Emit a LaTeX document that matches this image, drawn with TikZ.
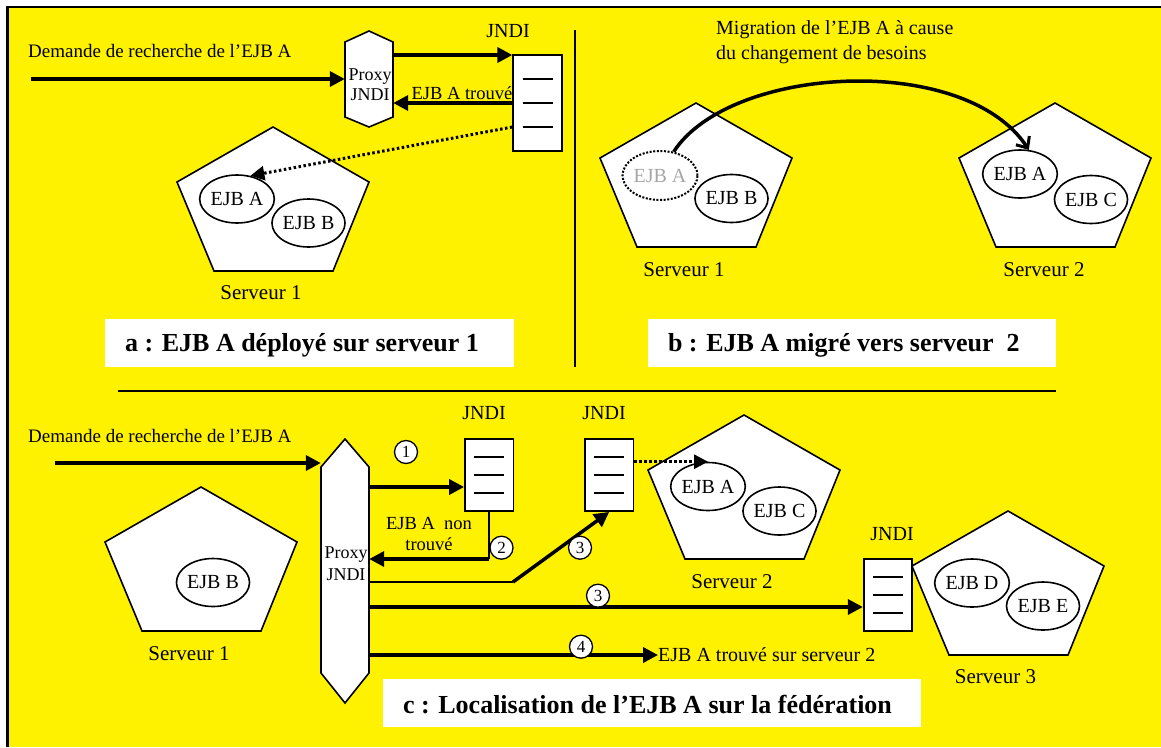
\documentclass[tikz,border=0pt]{standalone}
\usepackage{fontspec}
\setmainfont{Liberation Serif}
\usetikzlibrary{shapes.geometric,arrows.meta,calc}

% server drawn as a pentagon, given by its top vertex
\newcommand\srvpent[2]{\draw[outline] (#1,#2) -- ++(96,55) -- ++(-36,89) -- ++(-119,0) -- ++(-37,-89) -- cycle;}
% the three entries inside a JNDI register
\newcommand\jndilines[2]{\foreach \k in {-1,0,1}{\draw[jline] ($(#1.center)+(-15,\k*#2)$) -- ($(#1.center)+(15,\k*#2)$);}}

\begin{document}
\begin{tikzpicture}[x=1pt,y=-1pt,
  outline/.style={draw=black,line width=1.6pt,fill=white,line join=miter},
  ejb/.style={ellipse,draw,line width=1.6pt,minimum width=73pt,minimum height=48pt,inner sep=0pt,font=\fontsize{20}{24}\selectfont},
  lbl/.style={inner sep=0pt,font=\fontsize{20}{24}\selectfont},
  reqlbl/.style={inner sep=0pt,font=\fontsize{19}{22}\selectfont},
  small/.style={inner sep=0pt,font=\fontsize{18.5}{21}\selectfont,align=center},
  srvlbl/.style={inner sep=0pt,font=\fontsize{21}{24}\selectfont},
  jbox/.style={draw,line width=1.8pt,fill=white,minimum width=48.5pt,inner sep=0pt},
  jline/.style={line width=1.8pt},
  capbox/.style={fill=white,inner sep=0pt},
  caption/.style={inner sep=0pt,font=\bfseries\fontsize{26}{30}\selectfont},
  flow/.style={line width=3.5pt,-{Triangle[length=15pt,width=15pt]}},
  thinflow/.style={line width=1.8pt},
  lookup/.style={line width=3pt,dash pattern=on 2.5pt off 2.5pt,-{Triangle[length=14pt,width=14pt]}},
  stepnum/.style={circle,draw,line width=1.3pt,fill=white,minimum size=23pt,inner sep=0pt,font=\fontsize{17}{17}\selectfont},
  rule/.style={line width=1.5pt}
]
\useasboundingbox (0,0) rectangle (1161,747);
\fill[white] (0,0) rectangle (1161,747);
\fill[yellow] (7,7) rectangle (1161,747);
\draw[line width=2.5pt] (7.5,747) -- (7.5,6.75) -- (1161,6.75);

% ---------- a : EJB A deployed on server 1 ----------
\node[reqlbl,anchor=west] (reqA) at (28,51) {Demande de recherche de l’EJB A};
\coordinate (reqAstart) at (31,79);
\draw[outline] (369,31) -- (393,42) -- (393,117) -- (369,127) -- (345,117) -- (345,42) -- cycle;
\node[minimum width=48pt,minimum height=96pt,inner sep=0pt] (proxyA) at (369,79) {};
\node[small,font=\fontsize{18}{20}\selectfont] (proxyAlbl) at (370,85) {Proxy\\JNDI};
\draw[flow] (reqAstart) -- (proxyA.west |- reqAstart);

\node[jbox,minimum height=96pt] (jA) at (537.5,103) {};
\jndilines{jA}{24}
\node[lbl] (jAlbl) at (508,31) {JNDI};
\coordinate (yA1) at (0,55);
\draw[flow] (proxyA.east |- yA1) -- (jA.west |- yA1);
\draw[flow] (jA.west) -- (proxyA.east |- jA.west);
\node[small] (foundA) at (462,93) {EJB A trouvé};

\srvpent{273}{127}
\node[ejb] (eA1) at (237,199) {EJB A};
\node[ejb] (eA2) at (308.5,223) {EJB B};
\node[srvlbl] (sA1) at (261,293) {Serveur 1};
\coordinate (yA3) at (0,127);
\draw[lookup] (jA.west |- yA3) -- (eA1.60);

\node[capbox,minimum width=409pt,minimum height=48pt] (capAbox) at (309.5,343) {};
\node[caption,anchor=west] (capA) at ($(capAbox.west)+(20,2)$) {a : EJB A déployé sur serveur 1};

\draw[rule] (575,30) -- (575,367);

% ---------- b : EJB A migrated to server 2 ----------
\node[lbl,anchor=west,align=left,font=\fontsize{20}{25}\selectfont] (migr) at (716,42.5) {Migration de l’EJB A à cause\\du changement de besoins};
\srvpent{696}{103}
\srvpent{1055}{103}
\node[ejb,minimum width=75pt,minimum height=49pt,dash pattern=on 2pt off 1.6pt,line width=2pt,text=black!35] (eB1) at (660,175.5) {EJB A};
\node[ejb] (eB2) at (731.5,198.5) {EJB B};
\node[ejb] (eB3) at (1020,174) {EJB A};
\node[ejb] (eB4) at (1091,199.5) {EJB C};
\node[srvlbl] (sB1) at (684,270) {Serveur 1};
\node[srvlbl] (sB2) at (1044,270) {Serveur 2};
\draw[line width=3.5pt,-{Straight Barb[length=9pt,width=16pt,line width=3pt]}] (eB1.60) .. controls (730,65) and (965,52) .. (eB3.70);

\node[capbox,minimum width=408pt,minimum height=48pt] (capBbox) at (852,343) {};
\node[caption,anchor=west] (capB) at ($(capBbox.west)+(20,2)$) {b : EJB A migré vers serveur~~2};

\draw[rule] (118,391) -- (1056,391);

% ---------- c : locating EJB A across the federation ----------
\node[reqlbl,anchor=west] (reqC) at (28,436) {Demande de recherche de l’EJB A};
\coordinate (reqCstart) at (55,463);

\srvpent{201}{487}
\node[ejb] (eC1) at (213,582.5) {EJB B};
\node[srvlbl] (sC1) at (189,654) {Serveur 1};

\draw[outline] (345,439) -- (369,467) -- (369,673) -- (345,703) -- (321,673) -- (321,467) -- cycle;
\node[minimum width=48pt,minimum height=264pt,inner sep=0pt] (proxyC) at (345,571) {};
\node[small,font=\fontsize{18}{22}\selectfont] (proxyClbl) at (346,564) {Proxy\\JNDI};
\draw[flow] (reqCstart) -- (proxyC.west |- reqCstart);

\node[jbox,minimum height=72pt] (jC1) at (489.25,475) {};
\jndilines{jC1}{18}
\node[lbl] (jC1lbl) at (484,413) {JNDI};
\node[jbox,minimum height=72pt] (jC2) at (609.25,475) {};
\jndilines{jC2}{18}
\node[lbl] (jC2lbl) at (604,413) {JNDI};

\srvpent{744}{415}
\node[ejb] (eC2) at (708,486.5) {EJB A};
\node[ejb] (eC3) at (779.5,511) {EJB C};
\node[srvlbl] (sC2) at (732,582) {Serveur 2};

\node[jbox,minimum height=72pt] (jC3) at (888,595) {};
\jndilines{jC3}{18}
\node[lbl] (jC3lbl) at (892,534) {JNDI};
\srvpent{1008}{511}
\node[ejb] (eC4) at (972,583) {EJB D};
\node[ejb] (eC5) at (1043,606) {EJB E};
\node[srvlbl] (sC3) at (995.5,677) {Serveur 3};

% step 1: ask the first register
\coordinate (yC1) at (0,487);
\draw[flow] (proxyC.east |- yC1) -- (jC1.west |- yC1);
% step 2: not found
\coordinate (c2corner) at (489.25,559);
\draw[thinflow] (jC1.south) -- (c2corner);
\draw[flow] (c2corner) -- (proxyC.east |- c2corner);
\node[small] (notfound) at (429,534) {EJB A~~non\\trouvé};
% step 3: ask the other registers
\coordinate (c3bend) at (513,582);
\draw[thinflow] (proxyC.east |- c3bend) -- (c3bend);
\draw[flow] (c3bend) -- (jC2.south);
\coordinate (yC3) at (0,607);
\draw[flow] (proxyC.east |- yC3) -- (jC3.west |- yC3);
\draw[lookup] (jC2.east |- eC2.north) -- (eC2.north);
% step 4: answer
\node[lbl,anchor=west] (foundC) at (658,655) {EJB A trouvé sur serveur 2};
\draw[flow] (proxyC.east |- foundC.west) -- (foundC.west);

\node[stepnum] (n1) at (406,452) {1};
\node[stepnum] (n2) at (501.5,547.7) {2};
\node[stepnum] (n3a) at (580,547.7) {3};
\node[stepnum] (n3b) at (598,595.7) {3};
\node[stepnum] (n4) at (581,646.7) {4};

\node[capbox,minimum width=538pt,minimum height=48pt] (capCbox) at (652,703) {};
\node[caption,anchor=west] (capC) at ($(capCbox.west)+(20,2)$) {c : Localisation de l’EJB A sur la fédération};
\end{tikzpicture}
\end{document}
